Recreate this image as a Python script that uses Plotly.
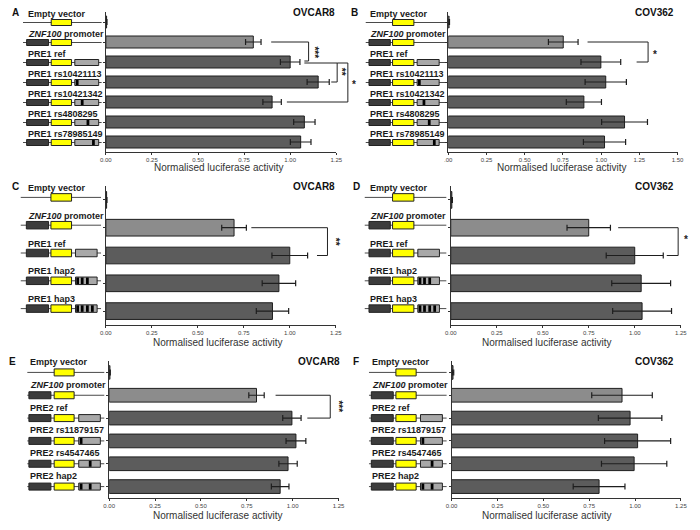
import plotly.graph_objects as go

W, H = 700, 530

# ---------------- data ----------------
a_cats = ["Empty vector", "<i>ZNF100</i> promoter", "PRE1 ref", "PRE1 rs10421113",
          "PRE1 rs10421342", "PRE1 rs4808295", "PRE1 rs78985149"]
a_vals = [0.004, 0.800, 1.000, 1.152, 0.902, 1.077, 1.057]
a_errs = [0.002, 0.042, 0.053, 0.060, 0.050, 0.058, 0.056]

b_cats = list(a_cats)
b_vals = [0.005, 0.752, 0.998, 1.030, 0.887, 1.153, 1.022]
b_errs = [0.003, 0.097, 0.130, 0.135, 0.115, 0.150, 0.138]

c_cats = ["Empty vector", "<i>ZNF100</i> promoter", "PRE1 ref", "PRE1 hap2", "PRE1 hap3"]
c_vals = [0.004, 0.697, 1.000, 0.941, 0.906]
c_errs = [0.002, 0.067, 0.097, 0.091, 0.088]

d_cats = list(c_cats)
d_vals = [0.006, 0.750, 1.000, 1.035, 1.040]
d_errs = [0.003, 0.118, 0.155, 0.160, 0.160]

e_cats = ["Empty vector", "<i>ZNF100</i> promoter", "PRE2 ref", "PRE2 rs11879157",
          "PRE2 rs4547465", "PRE2 hap2"]
e_vals = [0.004, 0.803, 0.996, 1.018, 0.975, 0.932]
e_errs = [0.002, 0.042, 0.050, 0.054, 0.050, 0.048]

f_cats = list(e_cats)
f_vals = [0.008, 0.929, 0.973, 1.014, 0.995, 0.804]
f_errs = [0.004, 0.165, 0.173, 0.180, 0.178, 0.141]

ticks_125 = [0, 0.25, 0.5, 0.75, 1.0, 1.25]
ticklabels_125 = ["0.00", "0.25", "0.50", "0.75", "1.00", "1.25"]
ticks_150 = [0, 0.25, 0.5, 0.75, 1.0, 1.25, 1.5]
ticklabels_150 = [".00", "0.25", "0.50", "0.75", "1.00", "1.25", "1.50"]

cell_lines = {"A": "OVCAR8", "B": "COV362", "C": "OVCAR8", "D": "COV362", "E": "OVCAR8", "F": "COV362"}

# construct types: (kind, snp marks)
pre1_constructs = [("empty", []), ("prom", []), ("pre", []), ("pre", [0]), ("pre", [1]), ("pre", [2]), ("pre", [3])]
hap_constructs = [("empty", []), ("prom", []), ("pre", []), ("pre", [0, 1, 2]), ("pre", [0, 1, 2, 3])]
pre2_constructs = [("empty", []), ("prom", []), ("pre", []), ("pre", [0]), ("pre", [1]), ("pre", [0, 1])]
pre1_snp_pos = [0.10, 0.31, 0.55, 0.78]
pre2_snp_pos = [0.11, 0.53]

# significance brackets: (row_top, row_bottom, x_top_start, x_vertical, x_bottom_end, label, label_x, label_row, angle)
brackets = {
    "A": [(1.0, 1.95, 0.897, 1.100, 1.077, "***", 1.127, 1.5, 90),
          (2.05, 3.0, 1.077, 1.255, 1.223, "**", 1.277, 2.5, 90),
          (2.05, 4.0, 1.255, 1.313, 0.982, "*", 1.345, 3.1, 0)],
    "B": [(1.0, 2.0, 0.911, 1.307, 1.232, "*", 1.355, 1.65, 0)],
    "C": [(1.0, 2.0, 0.791, 1.205, 1.148, "**", 1.25, 1.5, 90)],
    "D": [(1.0, 2.0, 0.910, 1.236, 1.174, "*", 1.28, 1.42, 0)],
    "E": [(1.0, 2.0, 0.907, 1.205, 1.080, "***", 1.245, 1.47, 90)],
    "F": [],
}

# ---------------- layout geometry (pixels) ----------------
panels = [
    dict(key="A", cats=a_cats, vals=a_vals, errs=a_errs, xmax=1.25, tv=ticks_125, tt=ticklabels_125,
         x0=101.6, x1=336.0, top=12, bot=152, cons=pre1_constructs, snp=pre1_snp_pos,
         line=(17.3, 97.3), dark=(21, 43.3), yel=(46, 66.7), gray=(70, 94.3), bh=6, dy=0.5, ldy=9,
         labx=20, letx=9.5, titx=313, axt=(216.5, 168)),
    dict(key="B", cats=b_cats, vals=b_vals, errs=b_errs, xmax=1.5, tv=ticks_150, tt=ticklabels_150,
         x0=450.0, x1=683.3, top=12, bot=152, cons=pre1_constructs, snp=pre1_snp_pos,
         line=(366, 446.7), dark=(369.3, 391), yel=(393.3, 415), gray=(418.3, 440.7), bh=6, dy=0.5, ldy=9,
         labx=368, letx=355, titx=660, axt=(566, 168)),
    dict(key="C", cats=c_cats, vals=c_vals, errs=c_errs, xmax=1.25, tv=ticks_125, tt=ticklabels_125,
         x0=101.6, x1=335.5, top=186, bot=325, cons=hap_constructs, snp=pre1_snp_pos,
         line=(15, 96.7), dark=(20.7, 43.3), yel=(45.7, 66.7), gray=(70.7, 92.7), bh=7.5, dy=-2.5, ldy=9.5,
         labx=20, letx=10, titx=313, axt=(216, 342)),
    dict(key="D", cats=d_cats, vals=d_vals, errs=d_errs, xmax=1.25, tv=ticks_125, tt=ticklabels_125,
         x0=452.5, x1=686.5, top=186, bot=325, cons=hap_constructs, snp=pre1_snp_pos,
         line=(365, 448), dark=(369.3, 391), yel=(393.3, 415), gray=(419, 441), bh=7.5, dy=-2.5, ldy=9.5,
         labx=368.3, letx=357, titx=660, axt=(550, 342)),
    dict(key="E", cats=e_cats, vals=e_vals, errs=e_errs, xmax=1.25, tv=ticks_125, tt=ticklabels_125,
         x0=105.0, x1=338.3, top=361, bot=498, cons=pre2_constructs, snp=pre2_snp_pos,
         line=(21.7, 100), dark=(23.3, 45.7), yel=(49, 69.3), gray=(74, 96), bh=7, dy=0, ldy=10.5,
         labx=22.7, letx=6.5, titx=318, axt=(216, 515.7)),
    dict(key="F", cats=f_cats, vals=f_vals, errs=f_errs, xmax=1.25, tv=ticks_125, tt=ticklabels_125,
         x0=453.3, x1=686.7, top=361, bot=498, cons=pre2_constructs, snp=pre2_snp_pos,
         line=(369.3, 448.3), dark=(371.7, 394), yel=(396.7, 417.3), gray=(421.7, 444), bh=7, dy=0, ldy=10.5,
         labx=370.7, letx=356, titx=660, axt=(550, 515.7)),
]

FONT = "Liberation Sans, Arial, Helvetica, sans-serif"
DARK_BAR = "#5c5c5c"
LIGHT_BAR = "#8c8c8c"
EDGE = "#1e1e1e"


def px(x):
    return x / W


def py(y):
    return 1 - y / H


fig = go.Figure()
shapes = []
annotations = []
layout_axes = {}

for i, p in enumerate(panels):
    idx = "" if i == 0 else str(i + 1)
    xa, ya = "x" + idx, "y" + idx
    n = len(p["cats"])
    colors = [LIGHT_BAR if "promoter" in c else DARK_BAR for c in p["cats"]]
    fig.add_trace(go.Bar(
        x=p["vals"], y=p["cats"], orientation="h", width=0.6,
        marker=dict(color=colors, line=dict(color=EDGE, width=1)),
        error_x=dict(type="data", array=p["errs"], color=EDGE, thickness=1.2, width=3),
        xaxis=xa, yaxis=ya, showlegend=False, hoverinfo="x+y",
    ))
    layout_axes["xaxis" + idx] = dict(
        domain=[px(p["x0"]), px(p["x1"])], range=[0, p["xmax"]], anchor=ya,
        tickmode="array", tickvals=p["tv"], ticktext=p["tt"],
        showline=True, linecolor="#333333", linewidth=1, ticks="outside", ticklen=2,
        tickcolor="#333333", tickwidth=1, showgrid=False, zeroline=False,
        tickfont=dict(family=FONT, size=6, color="#444444"), fixedrange=True,
    )
    layout_axes["yaxis" + idx] = dict(
        domain=[py(p["bot"]), py(p["top"])], type="category", range=[n - 0.5, -0.5], anchor=xa,
        categoryorder="array", categoryarray=p["cats"],
        showline=True, linecolor="#333333", linewidth=1, ticks="outside", ticklen=2,
        tickcolor="#333333", showticklabels=False, showgrid=False, zeroline=False, fixedrange=True,
    )

    # brackets (domain coordinates -> not clipped)
    for (rt, rb, xs, xv, xe, lab, lx, lr, ang) in brackets[p["key"]]:
        def yd(r):
            return 1 - (r + 0.5) / n
        def xd(v):
            return v / p["xmax"]
        shapes.append(dict(
            type="path", xref=xa + " domain", yref=ya + " domain",
            path=f"M {xd(xs)},{yd(rt)} L {xd(xv)},{yd(rt)} L {xd(xv)},{yd(rb)} L {xd(xe)},{yd(rb)}",
            line=dict(color="#222222", width=1),
        ))
        annotations.append(dict(
            xref=xa + " domain", yref=ya + " domain", x=xd(lx), y=yd(lr), text="<b>" + lab + "</b>",
            showarrow=False, textangle=ang, font=dict(family=FONT, size=10, color="#222222"),
            xanchor="center", yanchor="middle",
        ))

    # construct diagrams (decoration in paper coordinates)
    rowh = (p["bot"] - p["top"]) / n
    for r, (cat, (kind, marks)) in enumerate(zip(p["cats"], p["cons"])):
        yc = p["top"] + (r + 0.5) * rowh + p["dy"]
        bh = p["bh"]
        shapes.append(dict(type="line", xref="paper", yref="paper",
                           x0=px(p["line"][0]), x1=px(p["line"][1]), y0=py(yc), y1=py(yc),
                           line=dict(color="#4a4a4a", width=1)))
        boxes = [(p["yel"], "#ffff00")]
        if kind in ("prom", "pre"):
            boxes.insert(0, (p["dark"], "#3c3c3c"))
        if kind == "pre":
            boxes.append((p["gray"], "#a8a8a8"))
        for (bx0, bx1), col in boxes:
            shapes.append(dict(type="rect", xref="paper", yref="paper",
                               x0=px(bx0), x1=px(bx1), y0=py(yc - bh / 2), y1=py(yc + bh / 2),
                               fillcolor=col, line=dict(color="#222222", width=1)))
        if kind == "pre":
            g0, g1 = p["gray"]
            gw = g1 - g0
            for m in marks:
                c = g0 + p["snp"][m] * gw
                shapes.append(dict(type="rect", xref="paper", yref="paper",
                                   x0=px(c - 1.4), x1=px(c + 1.4),
                                   y0=py(yc - bh / 2 + 0.5), y1=py(yc + bh / 2 - 0.5),
                                   fillcolor="#000000", line=dict(width=0)))
        annotations.append(dict(
            xref="paper", yref="paper", x=px(p["labx"]), y=py(yc - p["ldy"]),
            text="<b>" + cat + "</b>", showarrow=False, xanchor="left", yanchor="middle",
            font=dict(family=FONT, size=9, color="#1a1a1a"),
        ))

    # panel letter, cell line title, axis title
    annotations.append(dict(xref="paper", yref="paper", x=px(p["letx"]), y=py(p["top"] + 0.7),
                            text="<b>" + p["key"] + "</b>", showarrow=False,
                            font=dict(family=FONT, size=10, color="#111111"),
                            xanchor="center", yanchor="middle"))
    annotations.append(dict(xref="paper", yref="paper", x=px(p["titx"]), y=py(p["top"] + 0.7),
                            text="<b>" + cell_lines[p["key"]] + "</b>", showarrow=False,
                            font=dict(family=FONT, size=10, color="#111111"),
                            xanchor="center", yanchor="middle"))
    annotations.append(dict(xref="paper", yref="paper", x=px(p["axt"][0]), y=py(p["axt"][1]),
                            text="Normalised luciferase activity", showarrow=False,
                            font=dict(family=FONT, size=10, color="#333333"),
                            xanchor="center", yanchor="middle"))

fig.update_layout(
    width=W, height=H, margin=dict(l=0, r=0, t=0, b=0),
    paper_bgcolor="white", plot_bgcolor="white",
    shapes=shapes, annotations=annotations,
    **layout_axes,
)

fig.write_html("out.html", config={"displayModeBar": False},
               post_script="document.body.style.margin='0';document.body.style.overflow='hidden';")
